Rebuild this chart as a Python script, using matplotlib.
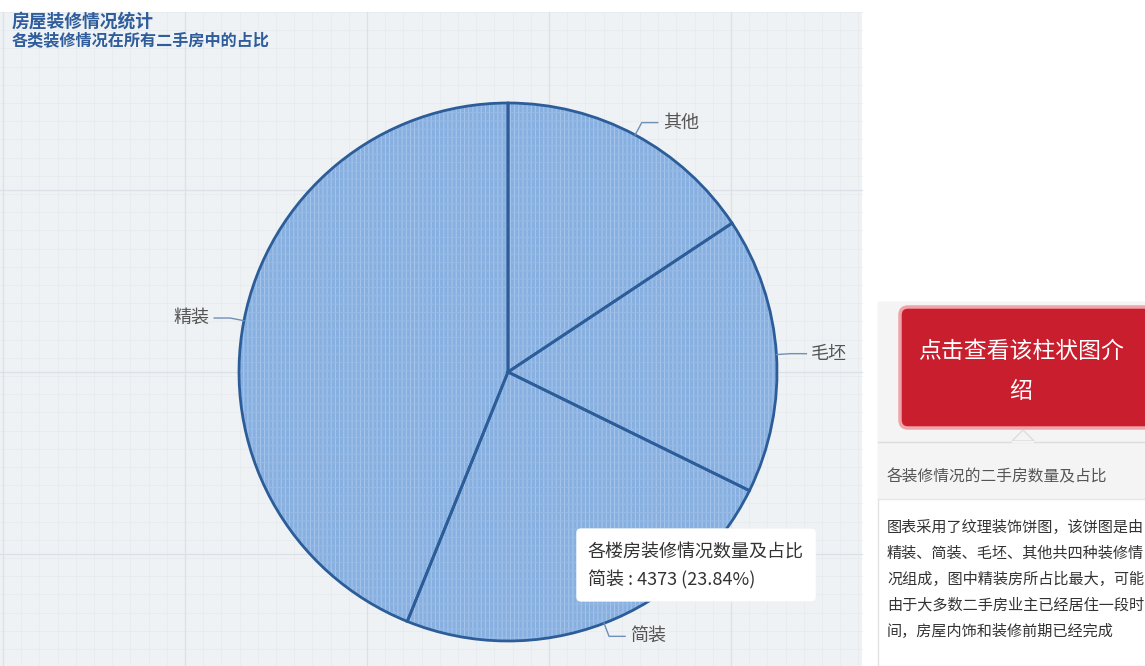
import numpy as np
import matplotlib.pyplot as plt
from matplotlib.patches import Rectangle, FancyBboxPatch, Polygon

plt.rcParams['font.family'] = ['Noto Sans CJK SC', 'DejaVu Sans']
plt.rcParams['hatch.linewidth'] = 0.7

# 装修情况及数量
categories = ['其他', '毛坯', '简装', '精装']
counts = [2874, 3045, 4373, 8051]

title = '房屋装修情况统计'
subtitle = '各类装修情况在所有二手房中的占比'
tip_title = '各楼房装修情况数量及占比'
tip_cat = '简装'

button_lines = ['点击查看该柱状图介', '绍']
panel_head = '各装修情况的二手房数量及占比'
panel_text = ['图表采用了纹理装饰饼图，该饼图是由',
              '精装、简装、毛坯、其他共四种装修情',
              '况组成，图中精装房所占比最大，可能',
              '由于大多数二手房业主已经居住一段时',
              '间，房屋内饰和装修前期已经完成']

W, H = 1145, 666
fig = plt.figure(figsize=(W / 100, H / 100), dpi=100)
ax = fig.add_axes([0, 0, 1, 1])


def Y(y):
    # 屏幕坐标(向下) -> 数据坐标(向上)
    return H - y


# 图表区背景 + 方格纸
ax.add_patch(Rectangle((0, Y(666)), 862, 654, facecolor='#eff2f4', edgecolor='none', zorder=0))
for x in np.arange(3, 862, 18.2):
    ax.plot([x, x], [Y(12), Y(666)], color='#e6eaee', lw=0.5, zorder=0.1)
for y in np.arange(12, 666, 18.2):
    ax.plot([0, 862], [Y(y), Y(y)], color='#e6eaee', lw=0.5, zorder=0.1)
for x in [3, 185, 367, 549, 731]:
    ax.plot([x, x], [Y(12), Y(666)], color='#dbe1e6', lw=0.9, zorder=0.2)
for y in [190, 372, 554]:
    ax.plot([0, 862], [Y(y), Y(y)], color='#dbe1e6', lw=0.9, zorder=0.2)

# 标题
ax.text(12, Y(22), title, fontsize=12.8, fontweight='bold', color='#2f5d9c', va='center', ha='left')
ax.text(12, Y(40), subtitle, fontsize=11.6, fontweight='bold', color='#2f5d9c', va='center', ha='left')

# 纹理饼图
cx, cy, r = 508, Y(372), 269
wedges, _ = ax.pie(counts, center=(cx, cy), radius=r, startangle=90, counterclock=False,
                   colors=['#87b0e0'] * 4,
                   wedgeprops=dict(hatch='||||', edgecolor='#a8c7ed', linewidth=0))
for w in wedges:
    w.set_zorder(2)
weave, _ = ax.pie(counts, center=(cx, cy), radius=r, startangle=90, counterclock=False,
                  wedgeprops=dict(facecolor='none', hatch='--', edgecolor='#98bbe6', linewidth=0))
for w in weave:
    w.set_zorder(2.5)
outline, _ = ax.pie(counts, center=(cx, cy), radius=r, startangle=90, counterclock=False,
                    wedgeprops=dict(facecolor='none', edgecolor='#2c5d99', linewidth=2))
for w in outline:
    w.set_zorder(3)

# 标签和引导线
for w, name in zip(wedges, categories):
    mid = np.deg2rad((w.theta1 + w.theta2) / 2)
    ux, uy = np.cos(mid), np.sin(mid)
    p0 = (cx + r * ux, cy + r * uy)
    p1 = (cx + (r + 14) * ux, cy + (r + 14) * uy)
    side = 1 if ux >= 0 else -1
    p2 = (p1[0] + side * 16, p1[1])
    ax.plot([p0[0], p1[0], p2[0]], [p0[1], p1[1], p2[1]], color='#6f8fb8', lw=1, zorder=4)
    ax.text(p2[0] + side * 5, p2[1], name, fontsize=13, color='#555555',
            ha='left' if side > 0 else 'right', va='center', zorder=4)

# 提示框
total = sum(counts)
idx = categories.index(tip_cat)
ax.add_patch(FancyBboxPatch((580, Y(599)), 232, 68, boxstyle='round,pad=3,rounding_size=4',
                            facecolor='#000000', alpha=0.08, edgecolor='none', zorder=5))
ax.add_patch(FancyBboxPatch((578, Y(600)), 236, 70, boxstyle='round,pad=1,rounding_size=4',
                            facecolor='white', edgecolor='#ffffff', zorder=6))
ax.text(588, Y(553), tip_title, fontsize=13, color='#333333', va='center', zorder=7)
ax.text(588, Y(580), f'{tip_cat} : {counts[idx]} ({counts[idx] / total * 100:.2f}%)',
        fontsize=13, color='#333333', va='center', zorder=7)

# 右侧说明面板
ax.add_patch(Rectangle((878, Y(666)), 270, 364, facecolor='white', edgecolor='#e3e3e3', lw=1, zorder=1))
ax.add_patch(Rectangle((878, Y(499)), 270, 197, facecolor='#f4f4f4', edgecolor='none', zorder=1.5))
ax.plot([878, 1145], [Y(499), Y(499)], color='#e6e6e6', lw=1, zorder=1.6)
ax.plot([878, 1145], [Y(442), Y(442)], color='#dcdcdc', lw=1, zorder=1.6)
ax.add_patch(Polygon([(1012, Y(441)), (1034, Y(441)), (1023, Y(430))], closed=True,
                     facecolor='#f4f4f4', edgecolor='#dcdcdc', lw=1, zorder=1.7))
ax.add_patch(Rectangle((1012, Y(442.5)), 22, 2, facecolor='#f4f4f4', edgecolor='none', zorder=1.8))
ax.add_patch(FancyBboxPatch((900, Y(428)), 260, 121, boxstyle='round,pad=0,rounding_size=8',
                            facecolor='#c81e2d', edgecolor='#f0a3a8', lw=2.5, zorder=2))
ax.text(1021, Y(352), button_lines[0], fontsize=16.5, color='white', ha='center', va='center', zorder=3)
ax.text(1021, Y(392), button_lines[1], fontsize=16.5, color='white', ha='center', va='center', zorder=3)
ax.text(887, Y(477), panel_head, fontsize=11.3, color='#555555', va='center', zorder=3)
for i, line in enumerate(panel_text):
    ax.text(887, Y(527 + 26 * i), line, fontsize=10.9, color='#333333', va='center', zorder=3)

ax.set_xlim(0, W)
ax.set_ylim(0, H)
ax.set_aspect('auto')
ax.axis('off')
fig.savefig('out.png', dpi=100, facecolor='white')
